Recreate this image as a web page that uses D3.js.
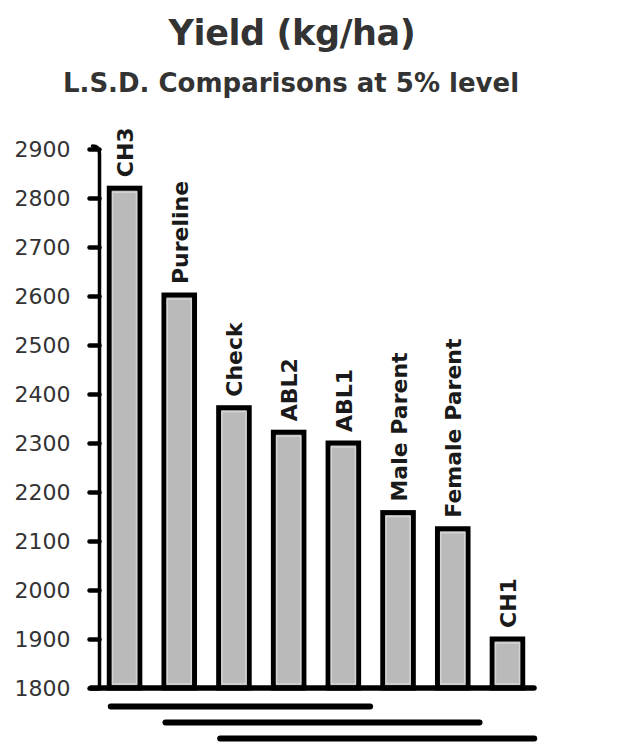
<!DOCTYPE html>
<html>
<head>
<meta charset="utf-8">
<script src="https://cdn.jsdelivr.net/npm/d3@7"></script>
<style>
  html, body { margin: 0; padding: 0; background: #fff; }
  svg { display: block; }
</style>
</head>
<body>
<svg id="chart" width="627" height="742"></svg>
<script>
// ---- data ----
const titleText = "Yield (kg/ha)";
const subtitleText = "L.S.D. Comparisons at 5% level";
const categories = ["CH3", "Pureline", "Check", "ABL2", "ABL1", "Male Parent", "Female Parent", "CH1"];
const yields = [2820, 2602, 2372, 2322, 2300, 2158, 2125, 1900];
const yTicks = [1800, 1900, 2000, 2100, 2200, 2300, 2400, 2500, 2600, 2700, 2800, 2900];
const lsdStarts = ["CH3", "Pureline", "Check"];
const lsdEnds = ["ABL1", "Female Parent", "CH1"];

// ---- layout ----
const svg = d3.select("#chart");
const font = "'DejaVu Sans', Verdana, sans-serif";

const x = d3.scaleBand().domain(categories).range([97.2, 534.8]).paddingInner(0.35).paddingOuter(0.175);
const y = d3.scaleLinear().domain([1800, 2900]).range([688, 149]);

// titles
svg.append("text").attr("x", 292).attr("y", 45).attr("text-anchor", "middle")
  .attr("font-family", font).attr("font-weight", "bold").attr("font-size", 35)
  .attr("letter-spacing", -0.4)
  .attr("fill", "#333").text(titleText);
svg.append("text").attr("x", 291).attr("y", 92).attr("text-anchor", "middle")
  .attr("font-family", font).attr("font-weight", "bold").attr("font-size", 26)
  .attr("fill", "#333").text(subtitleText);

// bars
const sw = 5;
const bars = svg.append("g");
const data = categories.map((c, i) => ({ c, v: yields[i] }));
bars.selectAll("rect.bar").data(data).join("rect").attr("class", "bar")
  .attr("x", d => x(d.c) + sw / 2)
  .attr("y", d => y(d.v))
  .attr("width", x.bandwidth() - sw)
  .attr("height", d => y(1800) - y(d.v))
  .attr("fill", "#bababa").attr("stroke", "#000").attr("stroke-width", sw);
bars.selectAll("rect.hl").data(data).join("rect").attr("class", "hl")
  .attr("x", d => x(d.c) + sw + 0.75)
  .attr("y", d => y(d.v) + sw / 2 + 1.5)
  .attr("width", x.bandwidth() - 2 * sw - 1.5)
  .attr("height", d => Math.max(0, y(1800) - y(d.v) - sw - 3))
  .attr("fill", "none").attr("stroke", "#d4d4d4").attr("stroke-width", 1.5);

// bar labels
svg.append("g").selectAll("text").data(data).join("text")
  .attr("transform", d => `translate(${x(d.c) + x.bandwidth() / 2 + 8.5},${y(d.v) - 11}) rotate(-90)`)
  .attr("font-family", font).attr("font-weight", "bold").attr("font-size", 22)
  .attr("fill", "#1a1a1a").text(d => d.c);

// y axis
const axisX = 99.5;
const yAxis = d3.axisLeft(y).tickValues(yTicks).tickSize(0).tickPadding(29).tickFormat(d3.format("d"));
const gy = svg.append("g").attr("transform", `translate(${axisX},0)`).call(yAxis);
gy.select(".domain").remove();
gy.selectAll(".tick text").attr("font-family", font).attr("font-size", 22).attr("fill", "#333");
gy.selectAll(".tick").append("line").attr("x1", -10).attr("x2", 0)
  .attr("stroke", "#000").attr("stroke-width", 4.5).attr("stroke-linecap", "round");
svg.append("path")
  .attr("d", `M${axisX},${y(1800)} L${axisX},${y(2900) + 5} Q${axisX},${y(2900) - 3} ${axisX - 7},${y(2900) - 3}`)
  .attr("fill", "none").attr("stroke", "#000").attr("stroke-width", 3.5).attr("stroke-linecap", "round");

// baseline
svg.append("line").attr("x1", 91).attr("x2", 534).attr("y1", y(1800)).attr("y2", y(1800))
  .attr("stroke", "#000").attr("stroke-width", 5.5).attr("stroke-linecap", "round");

// LSD lines
const lsdY = [706.5, 722.5, 738.5];
svg.append("g").selectAll("line").data(lsdStarts.map((s, i) => ({ s, e: lsdEnds[i], i }))).join("line")
  .attr("x1", d => x(d.s) + 4)
  .attr("x2", d => x(d.e) + x.bandwidth() + 9)
  .attr("y1", d => lsdY[d.i]).attr("y2", d => lsdY[d.i])
  .attr("stroke", "#000").attr("stroke-width", 6).attr("stroke-linecap", "round");
</script>
</body>
</html>
